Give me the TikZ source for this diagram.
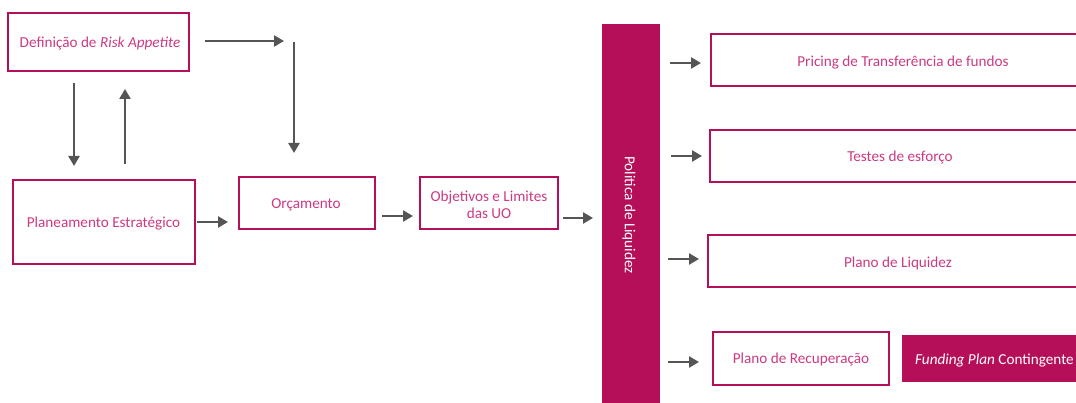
\documentclass[tikz,border=0pt]{standalone}
\usepackage{fontspec}
\setmainfont{Carlito}
\usetikzlibrary{arrows.meta}
\definecolor{mag}{HTML}{B50F5A}
\definecolor{txt}{HTML}{CC3A82}
\definecolor{arr}{HTML}{555555}
\begin{document}
\begin{tikzpicture}[x=1pt,y=-1pt,
  box/.style={draw=mag,line width=1.6pt,fill=white,inner sep=0pt},
  lab/.style={text=txt,font=\fontsize{15.2}{17}\selectfont,align=center,yshift=-1.5pt},
  wlab/.style={text=white,font=\fontsize{15.2}{17}\selectfont},
  conn/.style={draw=arr,line width=2.6pt,-{Triangle[length=10pt,width=11pt]}}]
\useasboundingbox (0,0) rectangle (1076,403);
\clip (0,0) rectangle (1076,403);
% boxes
\draw[box] (8,13) rectangle (189,71);
\node[lab] (def) at (100,42) {Definição de \textit{Risk Appetite}};
\draw[box] (13,180) rectangle (195,264);
\node[lab] (plan) at (103.5,222) {Planeamento Estratégico};
\draw[box] (239,177) rectangle (375,229);
\node[lab] (orc) at (306,203) {Orçamento};
\draw[box] (420,177) rectangle (558,229);
\node[lab] (obj) at (489,203) {Objetivos e Limites\\das UO};
\fill[mag] (602,24) rectangle (660,410);
\node[wlab,rotate=-90] (pol) at (629,215) {Politica de Liquidez};
\draw[box] (711,34) rectangle (1085,86);
\node[lab] (pri) at (903,61) {Pricing de Transferência de fundos};
\draw[box] (710,130) rectangle (1085,182);
\node[lab] (tes) at (900,156) {Testes de esforço};
\draw[box] (708,235) rectangle (1085,287);
\node[lab] (liq) at (898,262) {Plano de Liquidez};
\draw[box] (713,332) rectangle (889,385);
\node[lab] (rec) at (801,358) {Plano de Recuperação};
\fill[mag] (902,335) rectangle (1085,382);
\node[wlab,anchor=west,inner sep=0pt,yshift=-1.5pt] (fun) at (915,359) {\textit{Funding Plan} Contingente};
% connector coordinates
\coordinate (a1s) at (205,41); \coordinate (a1e) at (284,41);
\coordinate (a2s) at (294,42); \coordinate (a2e) at (294,153);
\coordinate (a3s) at (74,83); \coordinate (a3e) at (74,166);
\coordinate (a4s) at (125,164); \coordinate (a4e) at (125,89);
\coordinate (a5s) at (197,222); \coordinate (a5e) at (228,222);
\coordinate (a6s) at (382,216); \coordinate (a6e) at (413,216);
\coordinate (a7s) at (563,218); \coordinate (a7e) at (593,218);
\coordinate (b1s) at (670,63); \coordinate (b1e) at (701,63);
\coordinate (b2s) at (671,156); \coordinate (b2e) at (702,156);
\coordinate (b3s) at (668,259); \coordinate (b3e) at (699,259);
\coordinate (b4s) at (668,362); \coordinate (b4e) at (699,362);
\foreach \s/\e in {a1s/a1e,a2s/a2e,a3s/a3e,a4s/a4e,a5s/a5e,a6s/a6e,a7s/a7e,b1s/b1e,b2s/b2e,b3s/b3e,b4s/b4e}
  \draw[conn] (\s) -- (\e);
\end{tikzpicture}
\end{document}
